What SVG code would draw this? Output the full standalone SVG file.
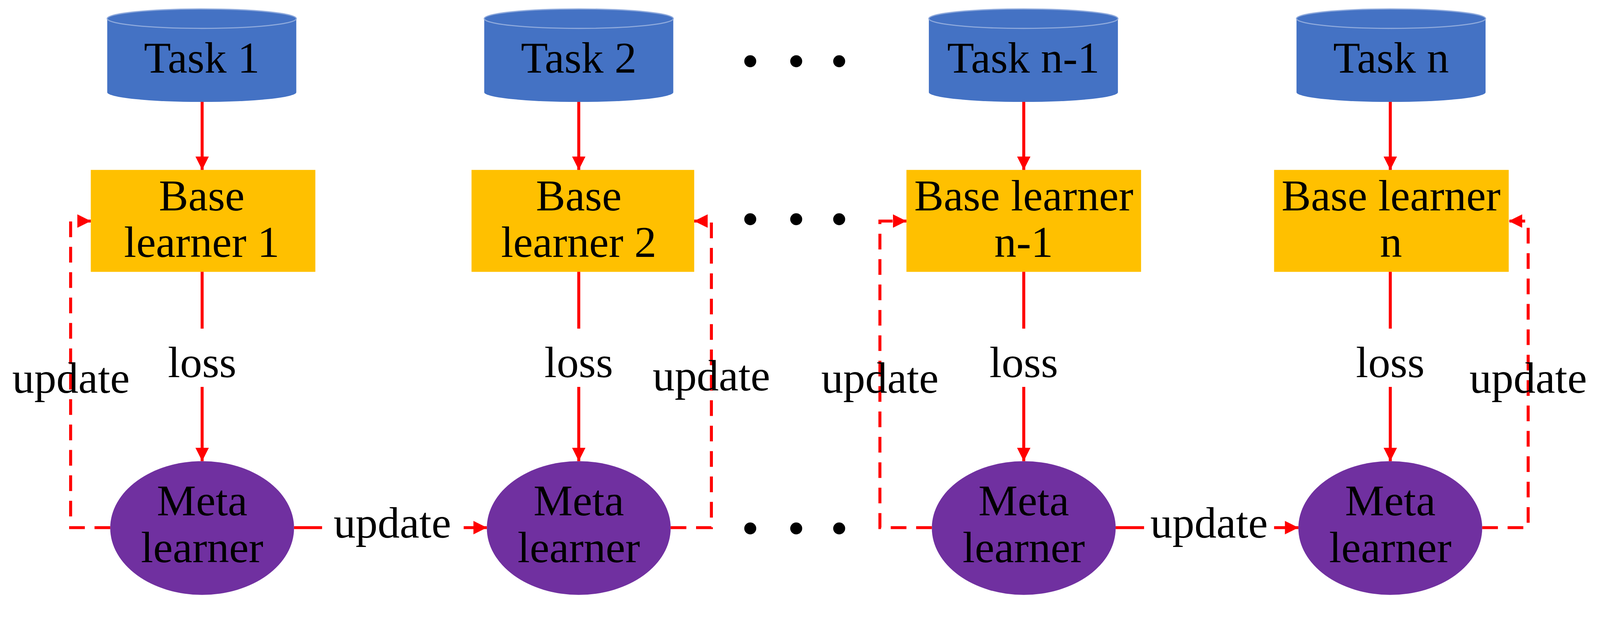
<svg xmlns="http://www.w3.org/2000/svg" width="4284" height="1647" viewBox="0 0 4284 1647">
<style>
text{font-family:"Liberation Serif","DejaVu Serif",serif;font-size:118px;fill:#000;text-anchor:middle}
.cyl{fill:#4472C4}
.cylt{fill:#4472C4;stroke:#8FAADC;stroke-width:3}
.box{fill:#FFC000}
.ell{fill:#7030A0}
.ln{stroke:#FF0000;stroke-width:8;fill:none}
.ds{stroke:#FF0000;stroke-width:8;fill:none;stroke-dasharray:42 26}
.dot{fill:#000}
</style>
<defs>
<marker id="ah" viewBox="0 0 10 10" refX="10" refY="5" markerWidth="4.5" markerHeight="4.5" orient="auto" markerUnits="strokeWidth">
<path d="M0,0 L10,5 L0,10 z" fill="#FF0000"/>
</marker>
</defs>
<g transform="scale(0.9565)">
<g id="task1"><path class="cyl" d="M287,50 V247 A253,26 0 0 0 793,247 V50 z"/><ellipse class="cylt" cx="540" cy="50" rx="253" ry="26"/><text x="540" y="194">Task 1</text></g>
<g id="task2"><path class="cyl" d="M1296,50 V247 A253,26 0 0 0 1802,247 V50 z"/><ellipse class="cylt" cx="1549" cy="50" rx="253" ry="26"/><text x="1549" y="194">Task 2</text></g>
<g id="taskn1"><path class="cyl" d="M2486,50 V247 A253,26 0 0 0 2992,247 V50 z"/><ellipse class="cylt" cx="2739" cy="50" rx="253" ry="26"/><text x="2739" y="194">Task n-1</text></g>
<g id="taskn"><path class="cyl" d="M3470,50 V247 A253,26 0 0 0 3976,247 V50 z"/><ellipse class="cylt" cx="3723" cy="50" rx="253" ry="26"/><text x="3723" y="194">Task n</text></g>
<g id="base1"><rect class="box" x="243" y="455" width="601" height="273"/><text x="540" y="563">Base</text><text x="540" y="688">learner 1</text></g>
<g id="base2"><rect class="box" x="1262" y="455" width="596" height="273"/><text x="1549" y="563">Base</text><text x="1549" y="688">learner 2</text></g>
<g id="basen1"><rect class="box" x="2426" y="455" width="628" height="273"/><text x="2740" y="563">Base learner</text><text x="2740" y="688">n-1</text></g>
<g id="basen"><rect class="box" x="3410" y="455" width="628" height="273"/><text x="3723" y="563">Base learner</text><text x="3723" y="688">n</text></g>
<g id="meta1"><ellipse class="ell" cx="541" cy="1414" rx="246" ry="179"/><text x="541" y="1380">Meta</text><text x="541" y="1506">learner</text></g>
<g id="meta2"><ellipse class="ell" cx="1549" cy="1414" rx="246" ry="179"/><text x="1549" y="1380">Meta</text><text x="1549" y="1506">learner</text></g>
<g id="metan1"><ellipse class="ell" cx="2740" cy="1414" rx="246" ry="179"/><text x="2740" y="1380">Meta</text><text x="2740" y="1506">learner</text></g>
<g id="metan"><ellipse class="ell" cx="3721" cy="1414" rx="246" ry="179"/><text x="3721" y="1380">Meta</text><text x="3721" y="1506">learner</text></g>
<g id="dots">
<circle class="dot" cx="2008" cy="164" r="16"/><circle class="dot" cx="2131" cy="164" r="16"/><circle class="dot" cx="2246" cy="164" r="16"/>
<circle class="dot" cx="2008" cy="587" r="16"/><circle class="dot" cx="2131" cy="587" r="16"/><circle class="dot" cx="2246" cy="587" r="16"/>
<circle class="dot" cx="2008" cy="1415" r="16"/><circle class="dot" cx="2131" cy="1415" r="16"/><circle class="dot" cx="2246" cy="1415" r="16"/>
</g>
<g id="connectors">
<line class="ln" x1="541" y1="273" x2="541" y2="455" marker-end="url(#ah)"/>
<line class="ln" x1="1549" y1="273" x2="1549" y2="455" marker-end="url(#ah)"/>
<line class="ln" x1="2740" y1="273" x2="2740" y2="455" marker-end="url(#ah)"/>
<line class="ln" x1="3721" y1="273" x2="3721" y2="455" marker-end="url(#ah)"/>
<line class="ln" x1="541" y1="728" x2="541" y2="880"/><line class="ln" x1="541" y1="1036" x2="541" y2="1235" marker-end="url(#ah)"/>
<line class="ln" x1="1549" y1="728" x2="1549" y2="880"/><line class="ln" x1="1549" y1="1036" x2="1549" y2="1235" marker-end="url(#ah)"/>
<line class="ln" x1="2740" y1="728" x2="2740" y2="880"/><line class="ln" x1="2740" y1="1036" x2="2740" y2="1235" marker-end="url(#ah)"/>
<line class="ln" x1="3721" y1="728" x2="3721" y2="880"/><line class="ln" x1="3721" y1="1036" x2="3721" y2="1235" marker-end="url(#ah)"/>
<text x="541" y="1010">loss</text><text x="1549" y="1010">loss</text><text x="2740" y="1010">loss</text><text x="3721" y="1010">loss</text>
<path class="ds" d="M295,1413 H189 V592 H243" marker-end="url(#ah)"/>
<path class="ds" d="M1795,1413 H1904 V592 H1858" marker-end="url(#ah)"/>
<path class="ds" d="M2494,1413 H2355 V592 H2426" marker-end="url(#ah)"/>
<path class="ds" d="M3967,1413 H4090 V592 H4038" marker-end="url(#ah)"/>
<text x="190" y="1052">update</text><text x="1904" y="1045">update</text><text x="2355" y="1052">update</text><text x="4090" y="1052">update</text>
<line class="ln" x1="787" y1="1413" x2="862" y2="1413"/><line class="ln" x1="1241" y1="1413" x2="1303" y2="1413" marker-end="url(#ah)"/>
<text x="1050" y="1440">update</text>
<line class="ln" x1="2986" y1="1413" x2="3062" y2="1413"/><line class="ln" x1="3410" y1="1413" x2="3475" y2="1413" marker-end="url(#ah)"/>
<text x="3236" y="1440">update</text>
</g>
</g>
</svg>
